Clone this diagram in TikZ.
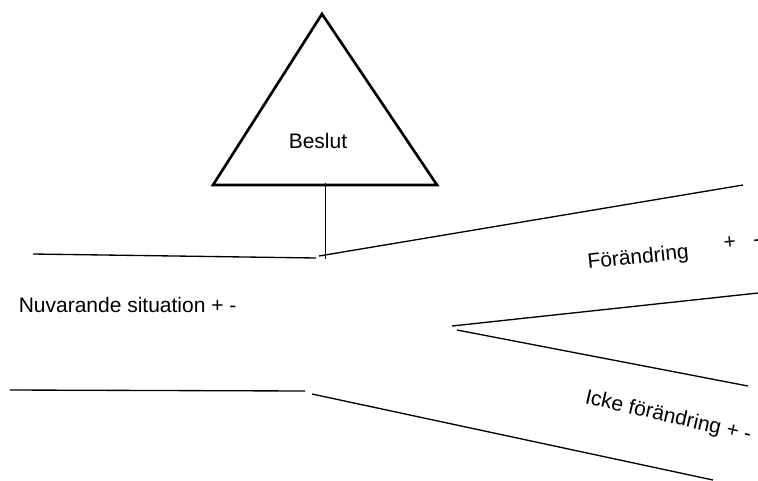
\documentclass[tikz,border=0pt]{standalone}
\usepackage{fontspec}
\setmainfont{Liberation Sans}
\usepackage{tikz}
\usetikzlibrary{positioning}
\tikzset{
  decision edge/.style={line width=2pt,line join=miter},
  road edge/.style={line width=1pt},
  stem edge/.style={line width=0.6pt},
  road label/.style={inner sep=0pt,font=\fontsize{15.75}{19}\selectfont},
}
\begin{document}
\begin{tikzpicture}[x=0.75pt,y=-0.75pt]
  \useasboundingbox (0,0) rectangle (758,480);
  % triangle
  \coordinate (apex) at (322,14);
  \coordinate (tl) at (213,185);
  \coordinate (tr) at (437,185);
  \draw[decision edge] (apex) -- (tr) -- (tl) -- cycle;
  \node[road label,anchor=base west] (beslut) at (288.5,148) {Beslut};
  \coordinate (stemtop) at (325,183);
  \coordinate (stembot) at (325,259);
  \draw[stem edge] (stemtop) -- (stembot);
  % roads
  \coordinate (ul1) at (33,254);
  \coordinate (ul2) at (316,258);
  \coordinate (ur1) at (319,256);
  \coordinate (ur2) at (743,185);
  \coordinate (mid1) at (452,326);
  \coordinate (mu2) at (758,293);
  \coordinate (mid2) at (457,330);
  \coordinate (ml2) at (748,386);
  \coordinate (ll1) at (10,390);
  \coordinate (ll2) at (305,391);
  \coordinate (lr1) at (312,394);
  \coordinate (lr2) at (713,480);
  \draw[road edge] (ul1) -- (ul2);
  \draw[road edge] (ur1) -- (ur2);
  \draw[road edge] (mid1) -- (mu2);
  \draw[road edge] (mid2) -- (ml2);
  \draw[road edge] (ll1) -- (ll2);
  \draw[road edge] (lr1) -- (lr2);
  % labels
  \node[road label,anchor=base west] (nu) at (18.5,312) {Nuvarande situation + -};
  \node[road label,anchor=base west,rotate=6] (change) at (588,269) {Förändring};
  \node[road label,anchor=base west,rotate=6] (changepm) at (724,250) {+\hspace{0.83em}-};
  \node[road label,anchor=base west,rotate=-13] (nochange) at (584,403) {Icke förändring + -};
\end{tikzpicture}
\end{document}
